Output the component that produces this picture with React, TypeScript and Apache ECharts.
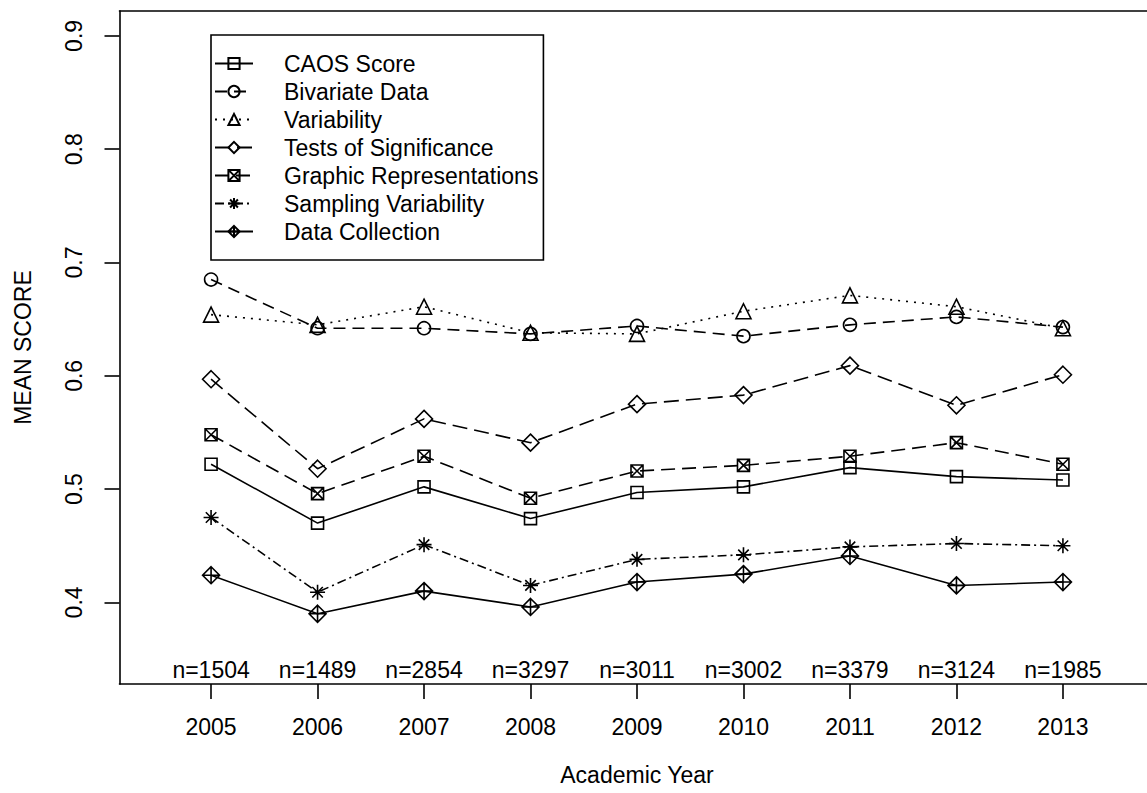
import React, { useEffect, useRef } from "react";
import * as echarts from "echarts";

const years = [2005, 2006, 2007, 2008, 2009, 2010, 2011, 2012, 2013];
const nCounts = [1504, 1489, 2854, 3297, 3011, 3002, 3379, 3124, 1985];
const yTicks = [0.4, 0.5, 0.6, 0.7, 0.8, 0.9];

const caosScore = [0.522, 0.470, 0.502, 0.474, 0.497, 0.502, 0.519, 0.511, 0.508];
const bivariateData = [0.685, 0.642, 0.642, 0.637, 0.644, 0.635, 0.645, 0.652, 0.643];
const variability = [0.654, 0.645, 0.661, 0.638, 0.637, 0.657, 0.671, 0.661, 0.642];
const testsOfSignificance = [0.597, 0.518, 0.562, 0.541, 0.575, 0.583, 0.609, 0.574, 0.601];
const graphicRepresentations = [0.548, 0.496, 0.529, 0.492, 0.516, 0.521, 0.529, 0.541, 0.522];
const samplingVariability = [0.475, 0.409, 0.451, 0.415, 0.438, 0.442, 0.449, 0.452, 0.450];
const dataCollection = [0.424, 0.390, 0.410, 0.396, 0.418, 0.425, 0.441, 0.415, 0.418];

const seriesNames = [
  "CAOS Score",
  "Bivariate Data",
  "Variability",
  "Tests of Significance",
  "Graphic Representations",
  "Sampling Variability",
  "Data Collection",
];
const seriesValues = [
  caosScore,
  bivariateData,
  variability,
  testsOfSignificance,
  graphicRepresentations,
  samplingVariability,
  dataCollection,
];

const SYM_XSQUARE = "path://M0,0L10,0L10,10L0,10Z M0,0L10,10 M10,0L0,10";
const SYM_ASTERISK = "path://M5,0L5,10 M0,5L10,5 M1.5,1.5L8.5,8.5 M8.5,1.5L1.5,8.5";
const SYM_DIAMONDPLUS = "path://M5,0L10,5L5,10L0,5Z M5,0L5,10 M0,5L10,5";

const seriesStyles: any[] = [
  { symbol: "rect", size: 12, dash: "solid" },
  { symbol: "circle", size: 13, dash: [12, 7] },
  { symbol: "triangle", size: 15, dash: [2, 6] },
  { symbol: "diamond", size: 17, dash: [15, 7] },
  { symbol: SYM_XSQUARE, size: 12, dash: [14, 7] },
  { symbol: SYM_ASTERISK, size: 15, dash: [9, 4, 2, 4] },
  { symbol: SYM_DIAMONDPLUS, size: 17, dash: "solid" },
];

const FONT = "'Liberation Sans', Arial, Helvetica, sans-serif";
const INK = "#000";
const FS = 23;
const X_MIN = 2004.14;
const X_MAX = 2013.86;

export default function App() {
  const ref = useRef<HTMLDivElement>(null);
  useEffect(() => {
    document.body.style.margin = "0";
    document.body.style.overflow = "hidden";
    if (!ref.current) return;
    const chart = echarts.init(ref.current, null, { renderer: "svg" });

    const lineSeries = seriesNames.map((name, i) => ({
      name,
      type: "line",
      data: years.map((y, j) => [y, seriesValues[i][j]]),
      symbol: seriesStyles[i].symbol,
      symbolSize: seriesStyles[i].size,
      showAllSymbol: true,
      lineStyle: { color: INK, width: 1.6, type: seriesStyles[i].dash },
      itemStyle: { color: "rgba(0,0,0,0)", borderColor: INK, borderWidth: 1.6 },
      emphasis: { disabled: true },
      z: 3,
    }));

    const nSeries = {
      name: "n",
      type: "scatter",
      data: years.map((y) => [y, 0.34]),
      symbolSize: 1,
      itemStyle: { color: "rgba(0,0,0,0)", opacity: 1 },
      label: {
        show: true,
        position: "inside",
        color: INK,
        opacity: 1,
        fontSize: FS,
        fontFamily: FONT,
        formatter: (p: any) => "n=" + nCounts[p.dataIndex],
      },
      emphasis: { disabled: true },
      silent: true,
    };

    chart.setOption({
      animation: false,
      textStyle: { fontFamily: FONT, color: INK },
      grid: {
        left: 119.5,
        top: 11,
        width: 1035,
        height: 673,
        containLabel: false,
        outerBoundsMode: "none",
        show: false,
      },
      legend: {
        data: seriesNames,
        orient: "vertical",
        left: 211,
        top: 35,
        padding: [17, 5, 17, 3],
        itemWidth: 38,
        itemHeight: 14,
        itemGap: 5,
        borderColor: INK,
        borderWidth: 1.6,
        backgroundColor: "#fff",
        selectedMode: false,
        textStyle: {
          fontSize: FS,
          fontFamily: FONT,
          color: INK,
          lineHeight: 23,
          padding: [0, 0, 0, 26],
        },
      },
      xAxis: [
        {
          type: "value",
          min: X_MIN,
          max: X_MAX,
          name: "Academic Year",
          nameLocation: "middle",
          nameGap: 79,
          nameTextStyle: { fontSize: FS, fontFamily: FONT, color: INK },
          axisLine: { show: true, lineStyle: { color: INK, width: 1.6 } },
          axisTick: {
            show: true,
            inside: false,
            length: 15,
            customValues: years,
            lineStyle: { color: INK, width: 1.6 },
          },
          axisLabel: {
            show: true,
            customValues: years,
            margin: 31,
            fontSize: FS,
            fontFamily: FONT,
            color: INK,
            formatter: (v: number) => String(Math.round(v)),
          },
          splitLine: { show: false },
        },
        {
          type: "value",
          position: "top",
          min: X_MIN,
          max: X_MAX,
          axisLine: { show: true, onZero: false, lineStyle: { color: INK, width: 1.6 } },
          axisTick: { show: false },
          axisLabel: { show: false },
          splitLine: { show: false },
        },
      ],
      yAxis: {
        type: "value",
        min: 0.328,
        max: 0.922,
        name: "MEAN SCORE",
        nameLocation: "middle",
        nameGap: 85,
        nameTextStyle: { fontSize: FS, fontFamily: FONT, color: INK },
        axisLine: { show: true, onZero: false, lineStyle: { color: INK, width: 1.6 } },
        axisTick: {
          show: true,
          inside: false,
          length: 15,
          customValues: yTicks,
          lineStyle: { color: INK, width: 1.6 },
        },
        axisLabel: {
          show: true,
          customValues: yTicks,
          rotate: 90,
          margin: 34,
          fontSize: FS,
          fontFamily: FONT,
          color: INK,
          formatter: (v: number) => v.toFixed(1),
        },
        splitLine: { show: false },
      },
      series: [...lineSeries, nSeries],
    });
    return () => chart.dispose();
  }, []);
  return (
    <div style={{ width: 1147, height: 793, overflow: "hidden", position: "relative" }}>
      <div ref={ref} style={{ width: 1200, height: 793 }} />
    </div>
  );
}
